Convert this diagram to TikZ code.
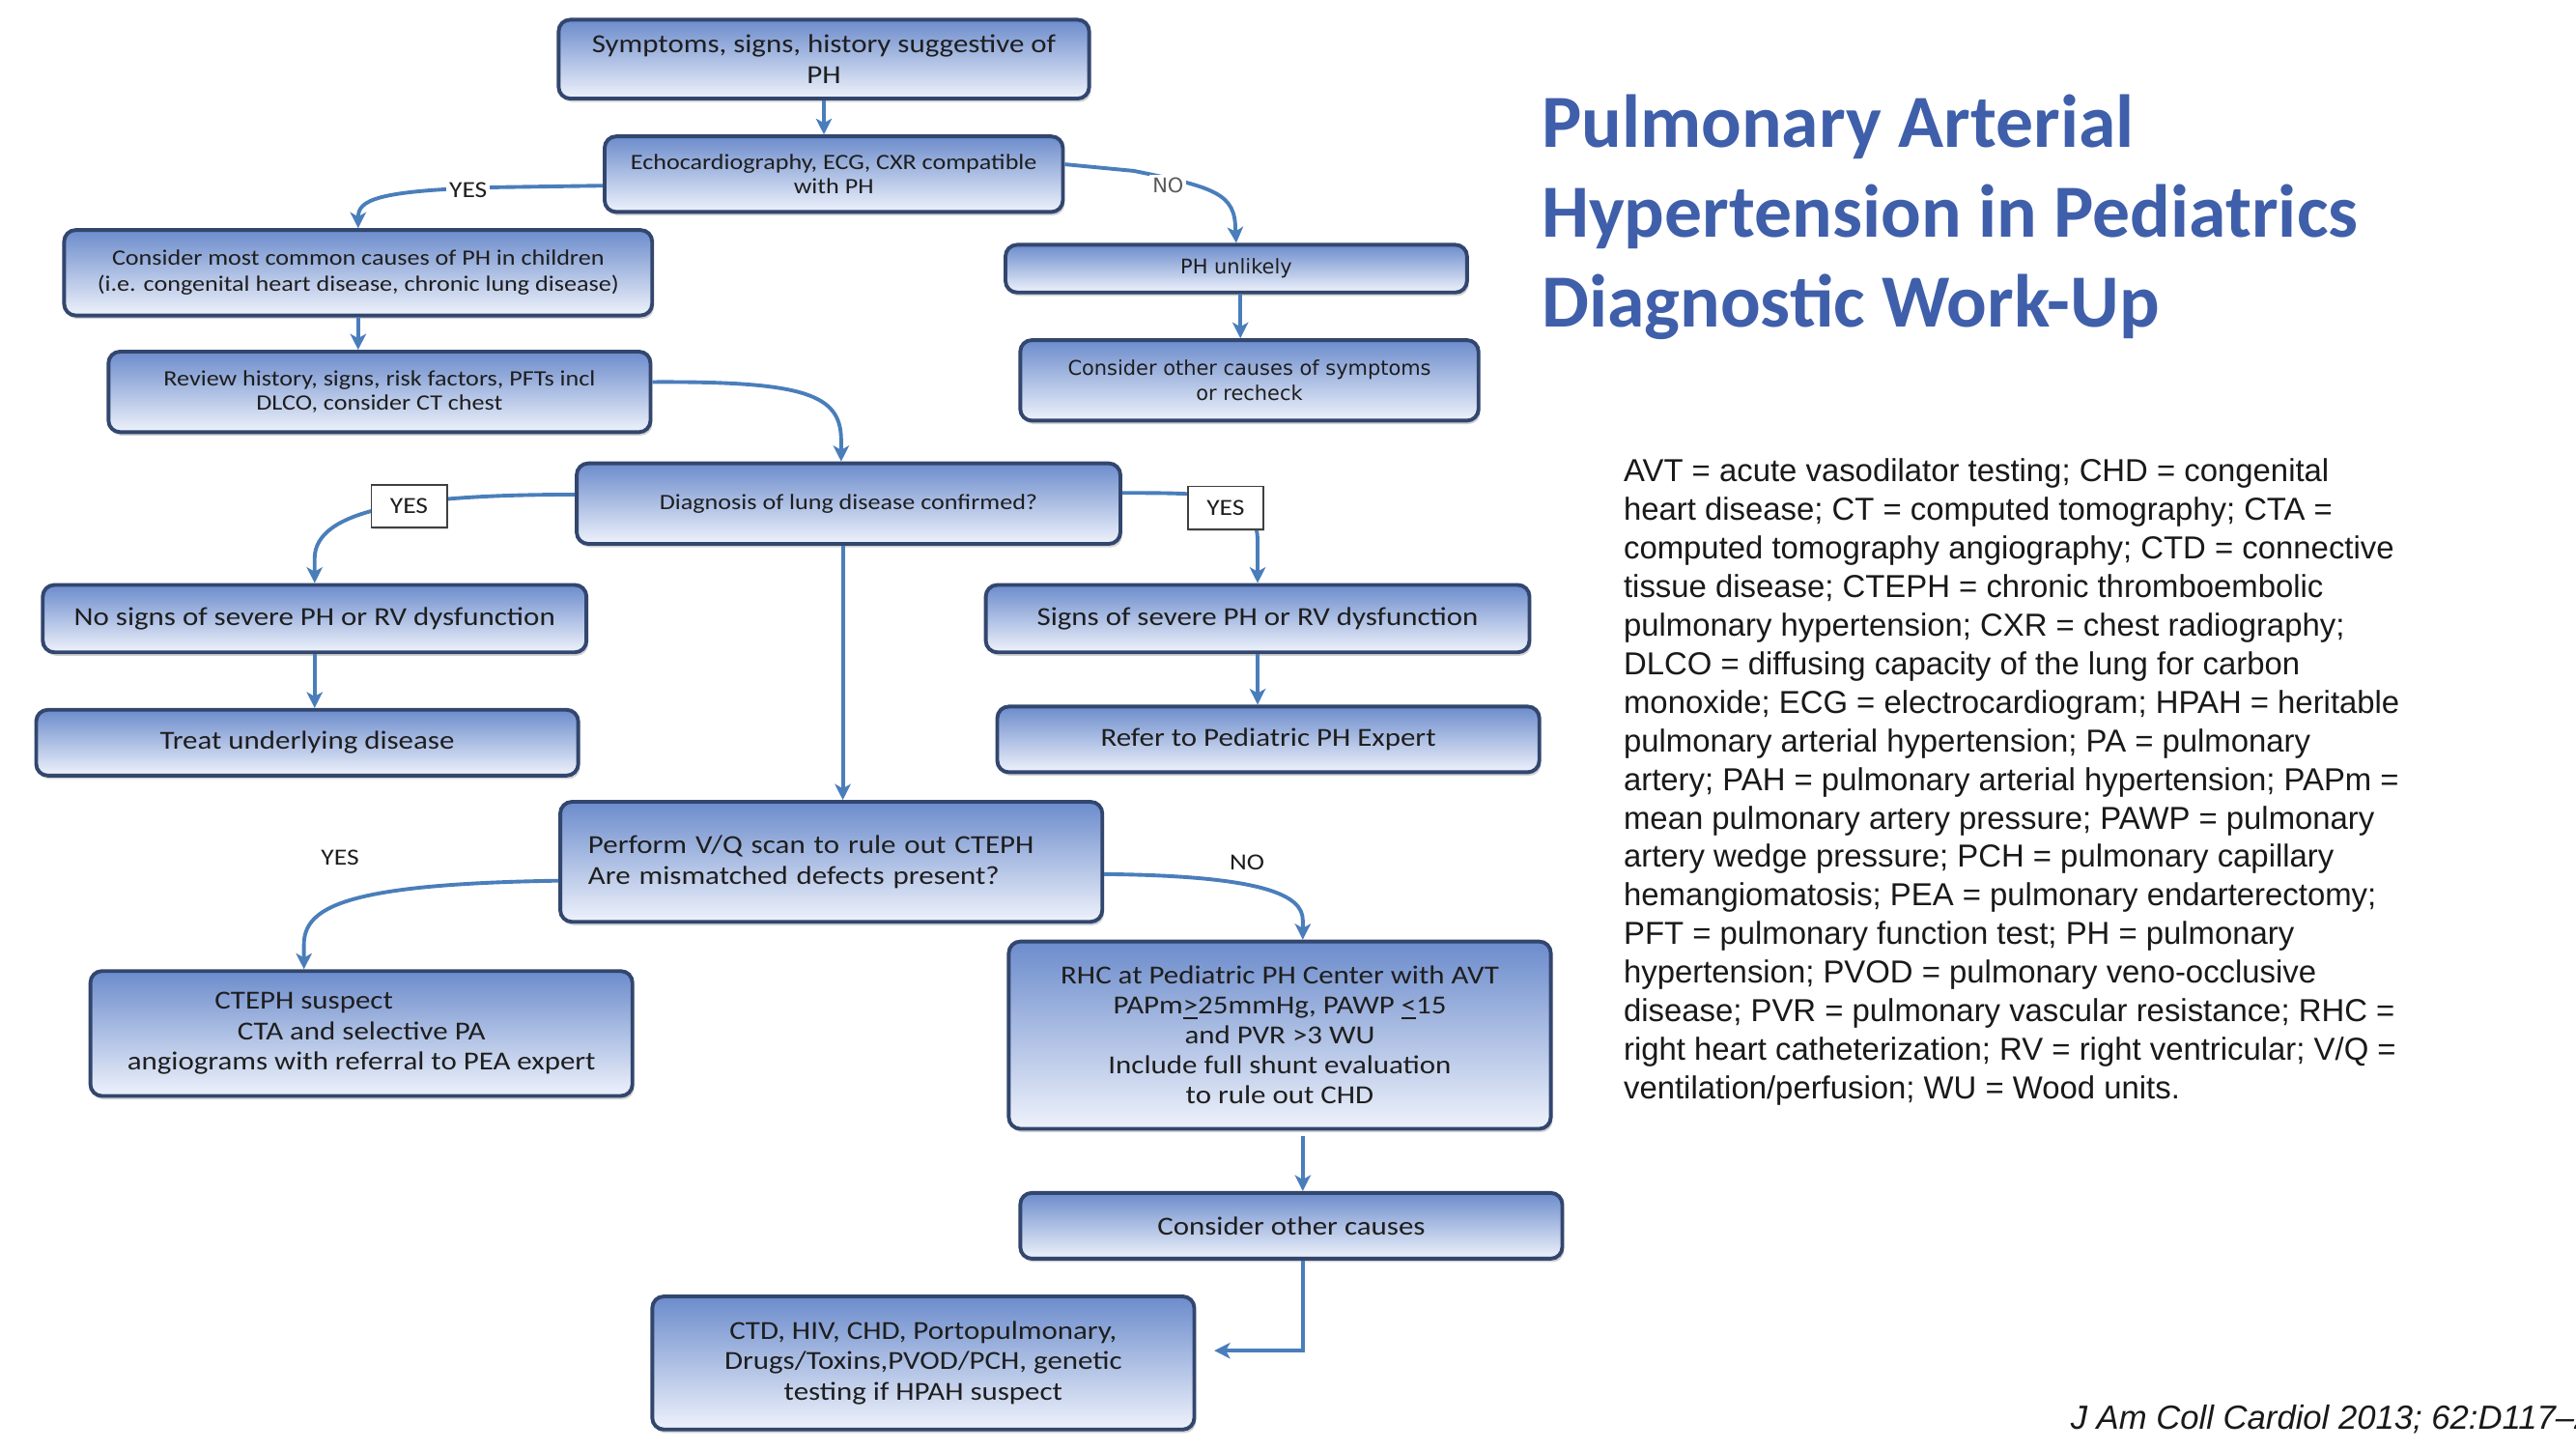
\documentclass[tikz,border=0pt]{standalone}
\usepackage{fontspec}
\setmainfont{Carlito}
\newfontfamily\boxfont[FakeStretch=1.15]{Carlito}
\newfontfamily\wideboxfont{DejaVu Sans}
\newfontfamily\legendfont{Liberation Sans}
\newfontfamily\titlefont{Carlito}
\usetikzlibrary{arrows.meta,shadows}
\newcommand\fsz[2]{\fontsize{#1}{#2}\selectfont}
\definecolor{boxtop}{RGB}{108,140,204}
\definecolor{boxbot}{RGB}{238,242,251}
\definecolor{boxline}{RGB}{50,70,110}
\definecolor{arrowblue}{RGB}{74,126,187}
\definecolor{titleblue}{RGB}{63,95,170}
\definecolor{boxtext}{RGB}{30,30,30}
\begin{document}
\begin{tikzpicture}[x=0.02cm,y=-0.02cm,
  box/.style={draw=boxline, line width=1.3pt, rounded corners=4pt,
    top color=boxtop, bottom color=boxbot, text=boxtext, align=center, inner sep=2pt,
    drop shadow={shadow xshift=0.6pt, shadow yshift=-1.2pt, opacity=0.35}},
  big/.style={font=\boxfont\fsz{9}{10.5}},
  small/.style={font=\boxfont\fsz{7.6}{8.6}},
  wide/.style={font=\wideboxfont\fsz{7}{8.5}},
  arr/.style={draw=arrowblue, line width=1.3pt, -{Stealth[length=5.5pt,width=5.5pt,inset=1.5pt]}},
  lbl/.style={text=boxtext, inner sep=1pt, font=\boxfont\fsz{8}{9}},
  yesbox/.style={draw=black!75, fill=white, line width=0.6pt, minimum width=0.92cm, minimum height=0.52cm,
    inner sep=1pt, font=\boxfont\fsz{8}{9}, text=boxtext,
    drop shadow={shadow xshift=0.5pt, shadow yshift=-0.8pt, opacity=0.3}}
]
\useasboundingbox[fill=white] (0,0) rectangle (1568,882);

% ---------- boxes ----------
\node[box, big, minimum width=6.46cm, minimum height=0.96cm] (sym) at (501.5,36)
  {Symptoms, signs, history suggestive of\\PH};
\node[box, small, minimum width=5.58cm, minimum height=0.92cm] (echo) at (507.5,106)
  {Echocardiography, ECG, CXR compatible\\with PH};
\node[box, small, minimum width=7.16cm, minimum height=1.04cm, font=\boxfont\fsz{7.6}{9.1}] (common) at (218,166)
  {Consider most common causes of PH in children\\(i.e. congenital heart disease, chronic lung disease)};
\node[box, small, minimum width=6.6cm, minimum height=0.98cm] (review) at (231,238.5)
  {Review history, signs, risk factors, PFTs incl\\DLCO, consider CT chest};
\node[box, wide, minimum width=5.62cm, minimum height=0.58cm] (unlikely) at (752.5,163.5)
  {PH unlikely};
\node[box, wide, minimum width=5.58cm, minimum height=0.98cm] (othersym) at (760.5,231.5)
  {Consider other causes of symptoms\\or recheck};
\node[box, small, minimum width=6.62cm, minimum height=0.98cm] (diag) at (516.5,306.5)
  {Diagnosis of lung disease confirmed?};
\node[box, big, minimum width=6.62cm, minimum height=0.82cm] (nosigns) at (191.5,376.5)
  {No signs of severe PH or RV dysfunction};
\node[box, big, minimum width=6.6cm, minimum height=0.8cm] (treat) at (187,452)
  {Treat underlying disease};
\node[box, big, minimum width=6.62cm, minimum height=0.82cm] (signs) at (765.5,376.5)
  {Signs of severe PH or RV dysfunction};
\node[box, big, minimum width=6.6cm, minimum height=0.8cm] (refer) at (772,450)
  {Refer to Pediatric PH Expert};
\node[box, big, minimum width=6.6cm, minimum height=1.46cm, text width=5.92cm, align=left,
  inner xsep=0.34cm, font=\boxfont\fsz{9}{10.8}] (vq) at (506,524.5)
  {Perform V/Q scan to rule out CTEPH\\Are mismatched defects present?};
\node[box, big, minimum width=6.6cm, minimum height=1.52cm] (cteph) at (220,629)
  {CTEPH suspect\hspace*{1.4cm}\\CTA and selective PA\hspace*{1.68cm}\\angiograms with referral to PEA expert};
\node[box, big, minimum width=6.6cm, minimum height=2.28cm, font=\boxfont\fsz{9}{10.4}] (rhc) at (779,630)
  {RHC at Pediatric PH Center with AVT\\PAPm\underline{>}25mmHg, PAWP \underline{<}15\\and PVR >3 WU\\Include full shunt evaluation\\to rule out CHD};
\node[box, big, minimum width=6.6cm, minimum height=0.8cm] (othercauses) at (786,746)
  {Consider other causes};
\node[box, big, minimum width=6.6cm, minimum height=1.62cm] (ctd) at (562,829.5)
  {CTD, HIV, CHD, Portopulmonary,\\Drugs/Toxins,PVOD/PCH, genetic\\testing if HPAH suspect};

% ---------- connectors ----------
\draw[arr] (sym.south) -- (sym.south |- echo.north);
\draw[arr] ([yshift=-0.14cm]echo.west) -- (300,114) .. controls (228,116) and (218,122) .. (common.north);
\node[lbl, fill=white] (yes1) at (285,116) {YES};
\draw[arr] ([yshift=0.12cm]echo.east) -- (690,104) .. controls (740,114) and (752,118) .. (752,140) -- (unlikely.north);
\node[lbl, fill=white, text=black!65, font=\wideboxfont\fsz{7}{8}] (no1) at (711,113) {NO};
\draw[arr] ([xshift=0.05cm]unlikely.south) -- ([xshift=0.05cm]unlikely.south |- othersym.north);
\draw[arr] (common.south) -- (common.south |- review.north);
\draw[arr] ([yshift=0.12cm]review.east) .. controls (490,232) and (512,240) .. (512,268) -- ([xshift=-0.09cm]diag.north);
\draw[arr] ([yshift=0.11cm]diag.west) .. controls (250,301) and (191.5,310) .. (191.5,340) -- (nosigns.north);
\node[yesbox] (yes2) at (249,308) {YES};
\draw[arr] ([yshift=0.13cm]diag.east) .. controls (740,300) and (765.5,300) .. (765.5,330) -- (signs.north);
\node[yesbox] (yes3) at (746,309) {YES};
\draw[arr] (nosigns.south) -- (nosigns.south |- treat.north);
\draw[arr] (signs.south) -- (signs.south |- refer.north);
\draw[arr] ([xshift=-0.07cm]diag.south) -- ([xshift=-0.07cm]diag.south |- vq.north);
\draw[arr] ([yshift=-0.23cm]vq.west) .. controls (210,538) and (185,552) .. (185,575) -- ([xshift=-0.7cm]cteph.north);
\node[lbl] (yes4) at (207,522) {YES};
\draw[arr] ([yshift=-0.15cm]vq.east) .. controls (770,533) and (793,545) .. (793,560) -- ([xshift=0.28cm]rhc.north);
\node[lbl] (no2) at (759,525) {NO};
\draw[arr] ([xshift=0.28cm,yshift=-0.06cm]rhc.south) -- ([xshift=0.28cm]rhc.south |- othercauses.north);
\draw[arr] ([xshift=0.14cm]othercauses.south) |- ([xshift=0.22cm,yshift=0.15cm]ctd.east);

% ---------- title, legend, citation ----------
\node[anchor=north west, inner sep=0, align=left, text=titleblue, font=\titlefont\bfseries\fsz{26}{31.2}] (title) at (938,57)
  {Pulmonary Arterial\\Hypertension in Pediatrics\\Diagnostic Work-Up};
\node[anchor=north west, inner sep=0, align=left, text=black!90, font=\legendfont\fsz{11}{13.35}] (legend) at (988,279)
  {AVT = acute vasodilator testing; CHD = congenital\\
   heart disease; CT = computed tomography; CTA =\\
   computed tomography angiography; CTD = connective\\
   tissue disease; CTEPH = chronic thromboembolic\\
   pulmonary hypertension; CXR = chest radiography;\\
   DLCO = diffusing capacity of the lung for carbon\\
   monoxide; ECG = electrocardiogram; HPAH = heritable\\
   pulmonary arterial hypertension; PA = pulmonary\\
   artery; PAH = pulmonary arterial hypertension; PAPm =\\
   mean pulmonary artery pressure; PAWP = pulmonary\\
   artery wedge pressure; PCH = pulmonary capillary\\
   hemangiomatosis; PEA = pulmonary endarterectomy;\\
   PFT = pulmonary function test; PH = pulmonary\\
   hypertension; PVOD = pulmonary veno-occlusive\\
   disease; PVR = pulmonary vascular resistance; RHC =\\
   right heart catheterization; RV = right ventricular; V/Q =\\
   ventilation/perfusion; WU = Wood units.};
\node[anchor=base west, inner sep=0, text=black!90, font=\legendfont\itshape\fsz{11.6}{14}] (cite) at (1260,870)
  {J Am Coll Cardiol 2013; 62:D117–26};
\end{tikzpicture}
\end{document}
